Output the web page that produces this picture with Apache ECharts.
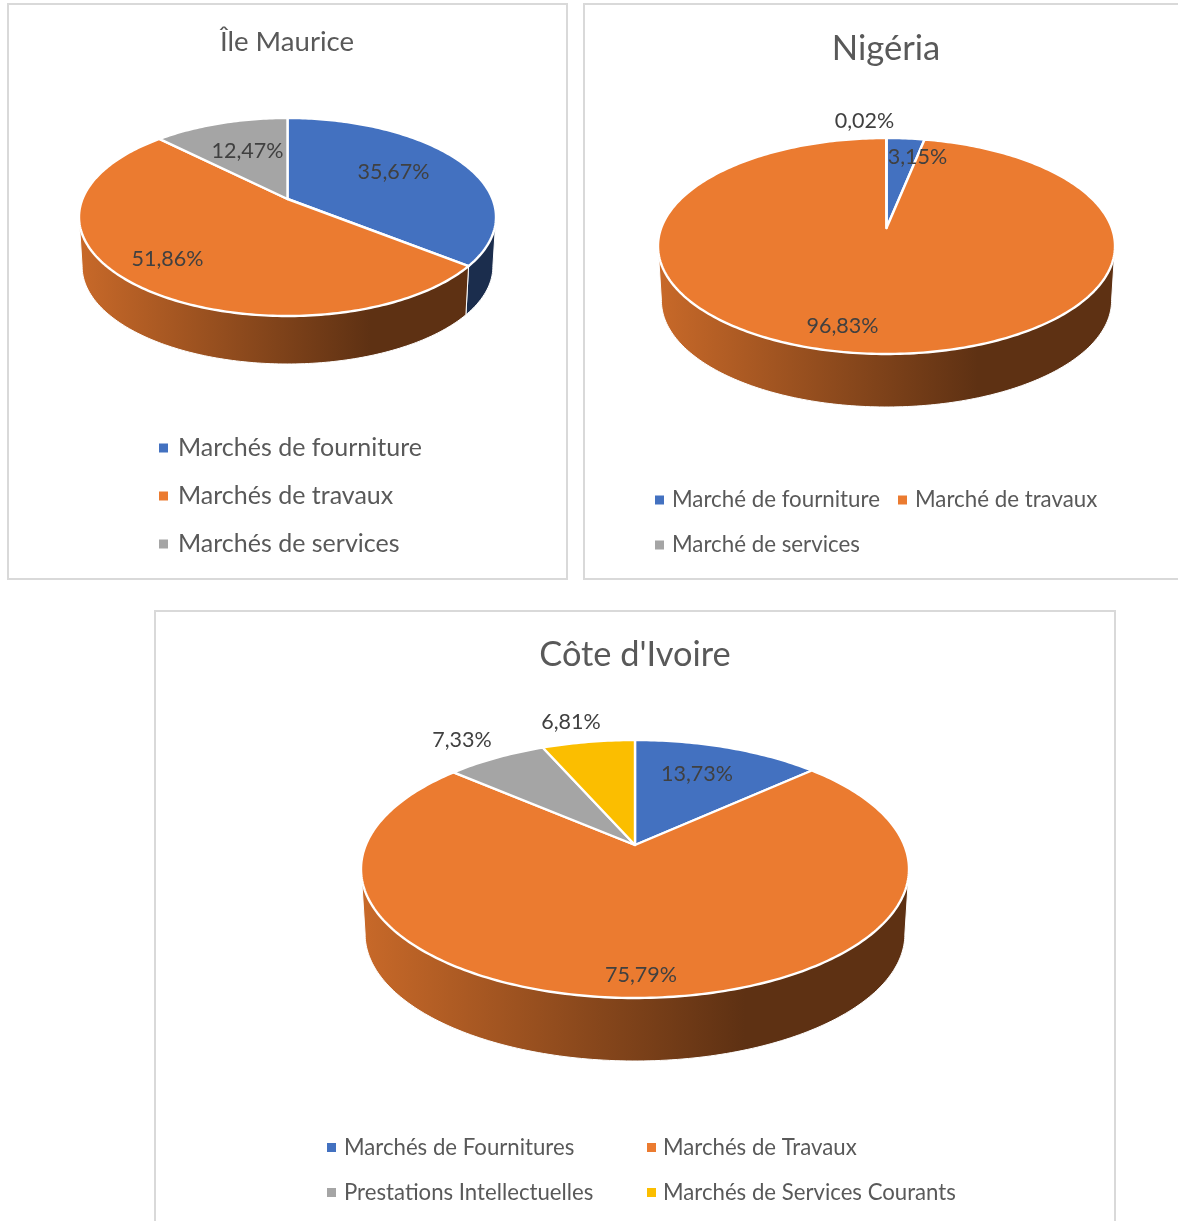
<!DOCTYPE html>
<html lang="fr">
<head>
<meta charset="utf-8">
<title>Répartition des marchés</title>
<style>html,body{margin:0;padding:0;background:#fff}#c{width:1178px;height:1221px}</style>
<script src="https://cdn.jsdelivr.net/npm/echarts@6/dist/echarts.min.js"></script>
</head>
<body>
<div id="c"></div>
<script>
// ---- data ----
var mauriceTitle = 'Île Maurice';
var mauriceCategories = ['Marchés de fourniture', 'Marchés de travaux', 'Marchés de services'];
var mauriceValues = [35.67, 51.86, 12.47];

var nigeriaTitle = 'Nigéria';
var nigeriaCategories = ['Marché de fourniture', 'Marché de travaux', 'Marché de services'];
var nigeriaValues = [3.15, 96.83, 0.02];

var ivoireTitle = "Côte d'Ivoire";
var ivoireCategories = ['Marchés de Fournitures', 'Marchés de Travaux', 'Prestations Intellectuelles', 'Marchés de Services Courants'];
var ivoireValues = [13.73, 75.79, 7.33, 6.81];

var mauriceColors = ['#4371C0', '#EB7B30', '#A5A5A5'];
var nigeriaColors = ['#4371C0', '#EB7B30', '#A5A5A5'];
var ivoireColors = ['#4371C0', '#EB7B30', '#A5A5A5', '#FBBE00'];

// ---- layout (pixels): pie apex, top / bottom / half width of the rim, wall depth ----
var mauriceGeom = {cx: 287.5, apexY: 199, topY: 118, botY: 316, halfW: 208.5, depth: 48};
var nigeriaGeom = {cx: 886.5, apexY: 228, topY: 138, botY: 354, halfW: 228.5, depth: 53};
var ivoireGeom  = {cx: 635,   apexY: 845, topY: 740, botY: 998, halfW: 274,   depth: 63};

// label centre, as offsets from the pie apex
var mauriceLabelOffsets = [[106, -27], [-120, 60], [-40, -48]];
var nigeriaLabelOffsets = [[31, -71], [-44, 98], [-22, -107]];
var ivoireLabelOffsets  = [[62, -71], [6, 130], [-173, -105], [-64, -123]];

var FONT = 'Lato, Carlito, "Open Sans", sans-serif';
var LABEL_SIZE = 21.5;

function projector(g) {
  var up = g.apexY - g.topY, down = g.botY - g.apexY;
  var ratio = down / up;
  var k = (ratio - 1) / (ratio + 1);
  var b = down * (1 - k);
  var R = g.halfW * Math.sqrt(1 - k * k);
  var s = 0.985;
  var dy = g.depth + (1 - s) * down;
  function top(t) {
    var X = Math.sin(t), Y = -Math.cos(t), w = 1 - k * Y;
    return [g.cx + R * X / w, g.apexY + b * Y / w];
  }
  function bottom(t) {
    var p = top(t);
    return [g.cx + s * (p[0] - g.cx), g.apexY + s * (p[1] - g.apexY) + dy];
  }
  return {top: top, bottom: bottom, sideAngle: Math.acos(-k)};
}

function shade(hex, f) {
  var n = parseInt(hex.slice(1), 16);
  var c = [(n >> 16) & 255, (n >> 8) & 255, n & 255].map(function (v) { return Math.round(v * f); });
  return 'rgb(' + c.join(',') + ')';
}

function arc(fn, a, b) {
  var pts = [], steps = Math.max(2, Math.ceil((b - a) / (Math.PI / 180)));
  for (var i = 0; i <= steps; i++) pts.push(fn(a + (b - a) * i / steps));
  return pts;
}

function pct(v) { return v.toFixed(2).replace('.', ',') + '%'; }

function pieSeries(categories, values, colors, geom, labelOffsets) {
  var total = values.reduce(function (a, b) { return a + b; }, 0);
  var proj = projector(geom);
  var acc = 0;
  return categories.map(function (name, i) {
    var start = acc / total * 2 * Math.PI;
    acc += values[i];
    var end = acc / total * 2 * Math.PI;
    return {
      type: 'custom',
      name: name,
      coordinateSystem: 'none',
      animation: false,
      silent: true,
      itemStyle: {color: colors[i]},
      data: [[values[i]]],
      renderItem: function (params, api) {
        var val = api.value(0);
        var children = [];
        var wa = Math.max(start, proj.sideAngle);
        var wb = Math.min(end, 2 * Math.PI - proj.sideAngle);
        if (wb > wa) {
          children.push({
            type: 'polygon',
            z2: 1,
            shape: {points: arc(proj.top, wa, wb).concat(arc(proj.bottom, wa, wb).reverse())},
            style: {
              fill: {
                type: 'linear', global: true,
                x: geom.cx - geom.halfW, y: 0, x2: geom.cx + geom.halfW, y2: 0,
                colorStops: [
                  {offset: 0, color: shade(colors[i], 0.85)},
                  {offset: 0.7, color: shade(colors[i], 0.4)},
                  {offset: 1, color: shade(colors[i], 0.4)}
                ]
              },
              stroke: '#fff', lineWidth: 1
            }
          });
        }
        children.push({
          type: 'polygon',
          z2: 2,
          shape: {points: [[geom.cx, geom.apexY]].concat(arc(proj.top, start, end))},
          style: {fill: colors[i], stroke: '#fff', lineWidth: 2.4, lineJoin: 'round'}
        });
        children.push({
          type: 'text',
          z2: 5,
          x: geom.cx + labelOffsets[i][0],
          y: geom.apexY + labelOffsets[i][1],
          style: {
            text: pct(val), fill: '#404040', fontSize: LABEL_SIZE, fontFamily: FONT,
            align: 'center', verticalAlign: 'middle'
          }
        });
        return {type: 'group', children: children};
      }
    };
  });
}

function legendItem(name, left, top, size, gap) {
  return {
    data: [name], left: left, top: top, orient: 'horizontal', padding: 0,
    icon: 'rect', itemWidth: 9, itemHeight: 9, itemGap: 0, selectedMode: false,
    textStyle: {color: '#595959', fontSize: size, fontFamily: FONT, padding: [0, 0, 0, gap]}
  };
}

function titleItem(text, x, y, size) {
  return {
    text: text, left: x, top: y, textAlign: 'center', padding: 0,
    textStyle: {color: '#595959', fontSize: size, fontWeight: 'normal', fontFamily: FONT}
  };
}

function frame(x, y, w, h) {
  return {type: 'rect', silent: true, shape: {x: x, y: y, width: w, height: h},
    style: {fill: 'none', stroke: '#D9D9D9', lineWidth: 2}};
}

var option = {
  backgroundColor: '#fff',
  animation: false,
  title: [
    titleItem(mauriceTitle, 287, 28.5, 27.6),
    titleItem(nigeriaTitle, 886, 31, 34.6),
    titleItem(ivoireTitle, 635, 638, 34.4)
  ],
  legend: [
    legendItem(mauriceCategories[0], 159, 435.5, 25, 5),
    legendItem(mauriceCategories[1], 159, 483.5, 25, 5),
    legendItem(mauriceCategories[2], 159, 531.5, 25, 5),
    legendItem(nigeriaCategories[0], 655, 489, 22.3, 3),
    legendItem(nigeriaCategories[1], 898, 489, 22.3, 3),
    legendItem(nigeriaCategories[2], 655, 534, 22.3, 3),
    legendItem(ivoireCategories[0], 327, 1136.5, 22.2, 3),
    legendItem(ivoireCategories[1], 647, 1136.5, 22.2, 2),
    legendItem(ivoireCategories[2], 327, 1181.5, 22.2, 3),
    legendItem(ivoireCategories[3], 647, 1181.5, 22.2, 2)
  ],
  graphic: [
    frame(8, 4, 559, 575),
    frame(584, 4, 700, 575),
    frame(155, 611, 960, 700)
  ],
  series: []
    .concat(pieSeries(mauriceCategories, mauriceValues, mauriceColors, mauriceGeom, mauriceLabelOffsets))
    .concat(pieSeries(nigeriaCategories, nigeriaValues, nigeriaColors, nigeriaGeom, nigeriaLabelOffsets))
    .concat(pieSeries(ivoireCategories, ivoireValues, ivoireColors, ivoireGeom, ivoireLabelOffsets))
};

var chart = echarts.init(document.getElementById('c'), null, {renderer: 'canvas'});
chart.setOption(option);
</script>
</body>
</html>
